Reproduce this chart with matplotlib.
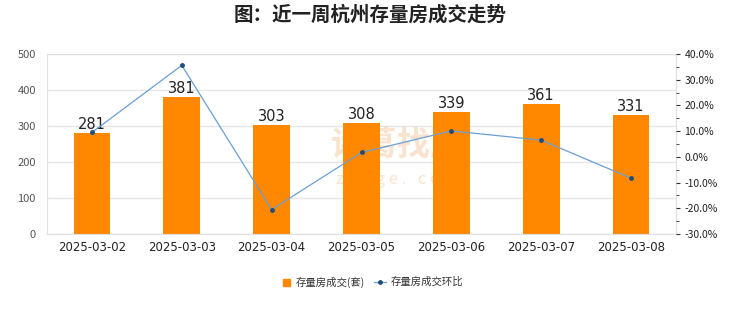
import numpy as np
import matplotlib.pyplot as plt
from matplotlib.ticker import FuncFormatter, MultipleLocator

plt.rcParams['font.family'] = ['Noto Sans CJK SC', 'DejaVu Sans']

# data
dates = ["2025-03-02", "2025-03-03", "2025-03-04", "2025-03-05",
         "2025-03-06", "2025-03-07", "2025-03-08"]
volume = [281, 381, 303, 308, 339, 361, 331]
change_pct = [9.5, 35.6, -20.5, 1.7, 10.1, 6.5, -8.3]

fig = plt.figure(figsize=(7.4, 3.12), dpi=100)
ax = fig.add_axes([47 / 740, 1 - 234 / 312, 629 / 740, 180 / 312])
x = np.arange(len(dates))

ax.bar(x, volume, width=0.41, color="#ff8800", zorder=2)
for xi, v in zip(x, volume):
    ax.text(xi, v + 3, str(v), ha="center", va="bottom", fontsize=10.5,
            color="#222222", family="DejaVu Sans", zorder=4)

ax.set_xlim(-0.5, len(dates) - 0.5)
ax.set_ylim(0, 500)
ax.set_yticks(range(0, 501, 100))
ax.yaxis.grid(True, color="#e6e6e6", lw=1)
ax.set_axisbelow(True)
ax.set_xticks(x)
ax.set_xticklabels(dates, fontsize=8.5, color="#222222", family="DejaVu Sans")
ax.tick_params(axis="x", length=0, pad=5)
ax.tick_params(axis="y", length=0, labelsize=8, labelcolor="#555555", pad=8)
for s in ax.spines.values():
    s.set_color("#e0e0e0")

ax2 = ax.twinx()
ax2.plot(x, change_pct, color="#6a9fd4", lw=0.9, marker="o", ms=2.5,
         mfc="#1f4e79", mec="#1f4e79", zorder=3)
ax2.set_ylim(-30, 40)
ax2.yaxis.set_major_locator(MultipleLocator(10))
ax2.yaxis.set_minor_locator(MultipleLocator(5))
ax2.yaxis.set_major_formatter(FuncFormatter(lambda v, p: f"{v:.1f}%"))
ax2.tick_params(axis="y", which="major", length=3, labelsize=7.5,
                color="#333333", labelcolor="#222222", pad=3)
ax2.tick_params(axis="y", which="minor", length=2, color="#333333")
for s in ax2.spines.values():
    s.set_visible(False)

# watermark
ax.text(3.4, 245, "诸葛找房", ha="center", va="center", fontsize=24,
        color="#f4c9a0", alpha=0.5, fontweight="bold", zorder=1)
ax.text(3.4, 150, "z h u g e .   c o m", ha="center", va="center", fontsize=12,
        color="#f4c9a0", alpha=0.5, zorder=1)

fig.text(0.5, 1 - 15 / 312, "图：近一周杭州存量房成交走势", ha="center", va="center",
         fontsize=14, fontweight="bold", color="#222222")

# legend
fig.patches.append(plt.Rectangle((283 / 740, 1 - 286 / 312), 7 / 740, 7 / 312,
                                 transform=fig.transFigure, color="#ff8800"))
fig.text(296 / 740, 1 - 282 / 312, "存量房成交(套)", fontsize=7.5,
         va="center", color="#333333")
fig.add_artist(plt.Line2D([374 / 740, 386 / 740], [1 - 282 / 312] * 2,
                          color="#6a9fd4", lw=0.9, transform=fig.transFigure))
fig.add_artist(plt.Line2D([380 / 740], [1 - 282 / 312], marker="o", ms=2.5,
                          color="#1f4e79", transform=fig.transFigure))
fig.text(391 / 740, 1 - 282 / 312, "存量房成交环比", fontsize=7.5,
         va="center", color="#333333")

fig.savefig("out.png", dpi=100, facecolor="white")
